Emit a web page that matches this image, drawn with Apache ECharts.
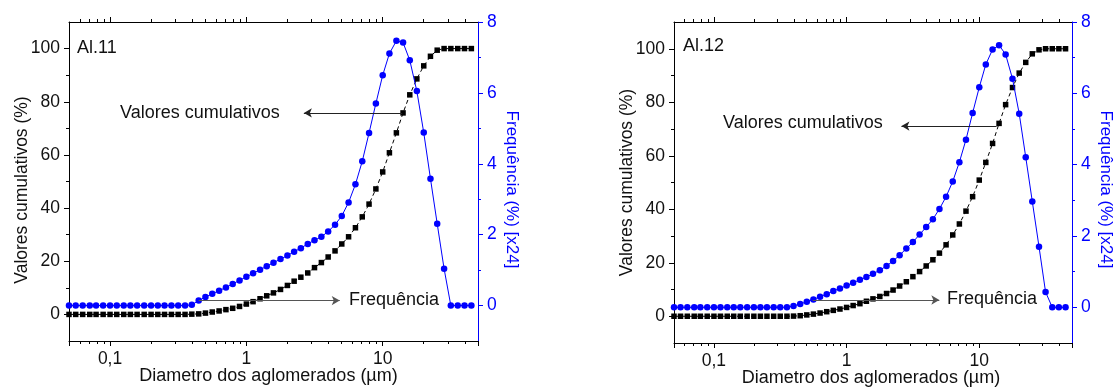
<!DOCTYPE html>
<html><head><meta charset="utf-8">
<script src="https://cdn.jsdelivr.net/npm/echarts@6/dist/echarts.min.js"></script>
<style>html,body{margin:0;padding:0;background:#fff}#c{width:1114px;height:388px}</style>
</head><body><div id="c"></div>
<script>
// ---- data ----
const diameters = [0.050,0.056,0.063,0.071,0.079,0.089,0.100,0.112,0.126,0.141,
  0.158,0.178,0.200,0.224,0.251,0.282,0.316,0.355,0.398,0.447,
  0.501,0.562,0.631,0.708,0.794,0.891,1.00,1.12,1.26,1.41,
  1.58,1.78,2.00,2.24,2.51,2.82,3.16,3.55,3.98,4.47,
  5.01,5.62,6.31,7.08,7.94,8.91,10.0,11.2,12.6,14.1,
  15.8,17.8,20.0,22.4,25.1,28.2,31.6,35.5,39.8,44.7];
const cumulativeAl11 = [0,0,0,0,0,0,0,0,0,0, 0,0,0,0,0,0,0,0,0.1,0.2,
  0.5,0.9,1.3,1.8,2.3,3.0,3.9,4.8,5.9,7.0, 8.1,9.4,10.9,12.5,14.0,15.6,17.6,19.5,21.6,23.9,
  26.5,29.2,32.6,36.7,41.5,47.2,53.6,60.8,68.3,75.8, 82.6,88.6,93.5,97.1,99.4,100,100,100,100,100];
const frequencyAl11 = [0,0,0,0,0,0,0,0,0,0, 0,0,0,0,0,0,0,0,0.02,0.14,
  0.24,0.33,0.42,0.51,0.61,0.71,0.81,0.91,1.01,1.11, 1.21,1.31,1.41,1.52,1.62,1.74,1.84,1.94,2.09,2.28,
  2.53,2.91,3.42,4.07,4.87,5.70,6.50,7.11,7.47,7.42, 6.92,6.05,4.88,3.58,2.31,1.04,0,0,0,0];
const cumulativeAl12 = [0,0,0,0,0,0,0,0,0,0, 0,0,0,0,0,0,0,0,0.05,0.2,
  0.5,0.8,1.2,1.7,2.2,2.7,3.3,4.0,4.7,5.6, 6.5,7.4,8.5,9.8,11.3,12.9,14.8,16.7,18.8,21.1,
  23.6,26.7,30.4,34.5,39.3,44.7,50.9,57.5,64.6,72.1, 79.1,85.5,90.9,94.9,98.1,99.6,100,100,100,100];
const frequencyAl12 = [0,0,0,0,0,0,0,0,0,0, 0,0,0,0,0,0,0,0,0.04,0.09,
  0.16,0.22,0.30,0.37,0.46,0.53,0.61,0.69,0.77,0.85, 0.94,1.04,1.16,1.30,1.46,1.65,1.83,2.04,2.25,2.47,
  2.76,3.10,3.53,4.07,4.70,5.45,6.17,6.81,7.23,7.35, 7.09,6.41,5.43,4.21,2.97,1.70,0.43,0,0,0];
const sampleNames = ['Al.11','Al.12'];
const xMajorTicks = [0.1, 1, 10];
const xMinorTicks = [0.06,0.07,0.08,0.09,0.2,0.3,0.4,0.5,0.6,0.7,0.8,0.9,2,3,4,5,6,7,8,9,20,30,40];
const yLeftTicks = [0,20,40,60,80,100];
const yLeftMinor = [10,30,50,70,90];
const yRightTicks = [0,2,4,6,8];
const yRightMinor = [1,3,5,7];
// annotation arrows: [from, to] in data coords
const cumArrowAl11 = [[13.9,75.8],[2.64,75.8]];
const freqArrowAl11 = [[0.447,0.14],[4.84,0.14]];
const cumArrowAl12 = [[13.5,71.1],[2.59,71.1]];
const freqArrowAl12 = [[0.555,0.205],[5.0,0.205]];

// ---- chart ----
const FONT = "'Liberation Sans', Arial, sans-serif";
const BLUE = '#0000ff';
const TXT = '#111';
const X_MIN = 0.05, X_MAX = 50;
const LX_MIN = Math.log10(X_MIN), LX_MAX = Math.log10(X_MAX);

const grids = [
  {left: 69, top: 22, width: 409, height: 319, containLabel: false, outerBoundsMode: 'none'},
  {left: 674, top: 22, width: 398, height: 321, containLabel: false, outerBoundsMode: 'none'}
];
const panels = [
  {cum: cumulativeAl11, freq: frequencyAl11, cumArrow: cumArrowAl11, freqArrow: freqArrowAl11,
   leftNamePad: [0, 17, 0, 0], rightNamePad: [0, 0, 0, 16], xNamePad: [0, 10, 0, 0]},
  {cum: cumulativeAl12, freq: frequencyAl12, cumArrow: cumArrowAl12, freqArrow: freqArrowAl12,
   leftNamePad: [0, 0, 0, 0], rightNamePad: [0, 0, 0, 14], xNamePad: [0, 4, 0, 0]}
];

function fmtX(v) {
  const l = Math.log10(v);
  if (Math.abs(l - Math.round(l)) > 1e-6) return '';
  const r = Math.pow(10, Math.round(l));
  if (!xMajorTicks.some(t => Math.abs(t - r) < 1e-9)) return '';
  return String(r).replace('.', ',');
}

const xAxis = [], yAxis = [], series = [];
const labelStyle = {fontSize: 17.5, fontFamily: FONT, color: TXT};
const hiddenLine = {show: false, onZero: false};
panels.forEach((p, gi) => {
  xAxis.push({
    type: 'log', logBase: 10, gridIndex: gi, min: X_MIN, max: X_MAX, position: 'bottom',
    axisLine: {show: true, onZero: false, lineStyle: {color: '#000', width: 1}},
    axisTick: {show: true, length: 5, lineStyle: {color: '#000'}},
    axisLabel: Object.assign({margin: 9, formatter: fmtX, showMinLabel: true, showMaxLabel: true}, labelStyle),
    splitLine: {show: false}, minorTick: {show: false},
    name: 'Diametro dos aglomerados (µm)', nameLocation: 'middle', nameGap: 26, nameMoveOverlap: false,
    nameTextStyle: {fontSize: 18, fontFamily: FONT, color: TXT, padding: p.xNamePad}
  });
  xAxis.push({
    type: 'value', gridIndex: gi, min: LX_MIN, max: LX_MAX, position: 'bottom',
    axisLine: hiddenLine, axisLabel: {show: false}, splitLine: {show: false},
    axisTick: {show: true, length: 3, lineStyle: {color: '#000'}, customValues: xMinorTicks.map(Math.log10)}
  });
  xAxis.push({
    type: 'value', gridIndex: gi, min: LX_MIN, max: LX_MAX, position: 'top',
    axisLine: {show: true, onZero: false, lineStyle: {color: '#000', width: 1}}, axisLabel: {show: false}, splitLine: {show: false},
    axisTick: {show: true, length: 5, lineStyle: {color: '#000'}, customValues: xMajorTicks.map(Math.log10)}
  });
  xAxis.push({
    type: 'value', gridIndex: gi, min: LX_MIN, max: LX_MAX, position: 'top',
    axisLine: hiddenLine, axisLabel: {show: false}, splitLine: {show: false},
    axisTick: {show: true, length: 3, lineStyle: {color: '#000'}, customValues: xMinorTicks.map(Math.log10)}
  });

  yAxis.push({
    type: 'value', gridIndex: gi, min: -10, max: 110, interval: 10, position: 'left',
    axisLine: {show: true, onZero: false, lineStyle: {color: '#000', width: 1}},
    axisTick: {show: true, length: 5, lineStyle: {color: '#000'}, customValues: yLeftTicks},
    axisLabel: Object.assign({margin: 9, customValues: yLeftTicks}, labelStyle),
    splitLine: {show: false},
    name: 'Valores cumulativos (%)', nameLocation: 'middle', nameGap: 38, nameRotate: 90, nameMoveOverlap: false,
    nameTextStyle: {fontSize: 17.5, fontFamily: FONT, color: TXT, padding: p.leftNamePad}
  });
  yAxis.push({
    type: 'value', gridIndex: gi, min: -1, max: 8, interval: 1, position: 'right',
    axisLine: {show: true, onZero: false, lineStyle: {color: BLUE, width: 1}},
    axisTick: {show: true, length: 5, lineStyle: {color: BLUE}, customValues: yRightTicks},
    axisLabel: Object.assign({}, labelStyle, {margin: 9, color: BLUE, customValues: yRightTicks}),
    splitLine: {show: false},
    name: 'Frequência (%) [x24]', nameLocation: 'middle', nameGap: 25, nameRotate: -90, nameMoveOverlap: false,
    nameTextStyle: {fontSize: 17, fontFamily: FONT, color: BLUE, padding: p.rightNamePad}
  });
  yAxis.push({
    type: 'value', gridIndex: gi, min: -10, max: 110, interval: 10, position: 'left',
    axisLine: hiddenLine, axisLabel: {show: false}, splitLine: {show: false},
    axisTick: {show: true, length: 3, lineStyle: {color: '#000'}, customValues: yLeftMinor}
  });
  yAxis.push({
    type: 'value', gridIndex: gi, min: -1, max: 8, interval: 1, position: 'right',
    axisLine: hiddenLine, axisLabel: {show: false}, splitLine: {show: false},
    axisTick: {show: true, length: 3, lineStyle: {color: BLUE}, customValues: yRightMinor}
  });

  const arrowLine = (pts, color) => ({
    silent: true, animation: false, symbol: ['none', 'arrow'], symbolSize: [7, 8],
    label: {show: false}, emphasis: {disabled: true},
    lineStyle: {color: color, width: 1, type: 'solid'},
    data: [[{coord: pts[0]}, {coord: pts[1]}]]
  });

  series.push({
    type: 'line', name: sampleNames[gi] + ' cumulativo', xAxisIndex: gi * 4, yAxisIndex: gi * 4,
    data: diameters.map((d, i) => [d, p.cum[i]]),
    symbol: 'rect', symbolSize: 5.5, showAllSymbol: true,
    itemStyle: {color: '#000'}, lineStyle: {color: '#000', width: 1, type: [4, 3]},
    markLine: arrowLine(p.cumArrow, '#222'), z: 2
  });
  series.push({
    type: 'line', name: sampleNames[gi] + ' frequência', xAxisIndex: gi * 4, yAxisIndex: gi * 4 + 1,
    data: diameters.map((d, i) => [d, p.freq[i]]),
    symbol: 'circle', symbolSize: 6.5, showAllSymbol: true,
    itemStyle: {color: BLUE}, lineStyle: {color: BLUE, width: 1},
    markLine: arrowLine(p.freqArrow, '#555'), z: 3
  });
});

const txt = (x, y, s, size) => ({type: 'text', x: x, y: y, z: 10,
  style: {text: s, fontSize: size || 18, fontFamily: FONT, fill: TXT, verticalAlign: 'middle'}});

const option = {
  animation: false,
  backgroundColor: '#fff',
  grid: grids,
  xAxis: xAxis,
  yAxis: yAxis,
  series: series,
  graphic: [
    txt(77, 48, sampleNames[0]),
    txt(120, 113, 'Valores cumulativos'),
    txt(349, 300, 'Frequência'),
    txt(683, 46, sampleNames[1]),
    txt(723, 123, 'Valores cumulativos'),
    txt(947, 299, 'Frequência')
  ]
};
const chart = echarts.init(document.getElementById('c'), null, {renderer: 'canvas'});
chart.setOption(option);
</script></body></html>
